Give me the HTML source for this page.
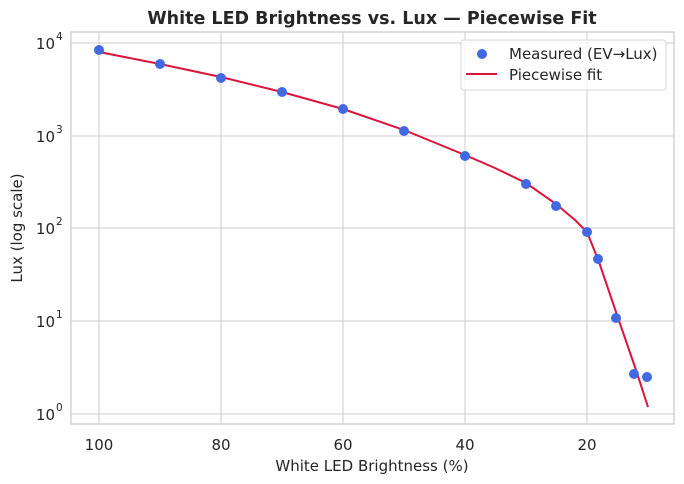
<!DOCTYPE html>
<html><head><style>body{margin:0;background:#fff}svg{display:block}</style></head><body>
<svg width="684" height="484" xmlns="http://www.w3.org/2000/svg" font-family="DejaVu Sans, Liberation Sans, sans-serif">
<rect width="684" height="484" fill="#fff"/>
<g stroke="#cccccc" stroke-width="1">
<line x1="99" y1="32" x2="99" y2="424"/><line x1="221" y1="32" x2="221" y2="424"/><line x1="343" y1="32" x2="343" y2="424"/><line x1="465" y1="32" x2="465" y2="424"/><line x1="587" y1="32" x2="587" y2="424"/>
<line x1="71" y1="43" x2="674" y2="43"/><line x1="71" y1="136" x2="674" y2="136"/><line x1="71" y1="228" x2="674" y2="228"/><line x1="71" y1="321" x2="674" y2="321"/><line x1="71" y1="414" x2="674" y2="414"/>
</g>
<rect x="71" y="32" width="603" height="392" fill="none" stroke="#cccccc" stroke-width="1.3"/>
<polyline fill="none" stroke="#dc143c" stroke-width="2" points="99,52 160,64 221,77 282,92 343,109 404,130 465,155 495,168 526,183 556,204 575,220 587,232 599,262 617,315 636,370 648,407"/>
<g fill="#4169e1">
<circle cx="99" cy="50" r="5"/><circle cx="160" cy="64" r="5"/><circle cx="221" cy="78" r="5"/><circle cx="282" cy="92" r="5"/><circle cx="343" cy="109" r="5"/><circle cx="404" cy="131" r="5"/><circle cx="465" cy="156" r="5"/><circle cx="526" cy="184" r="5"/><circle cx="556" cy="206" r="5"/><circle cx="587" cy="232" r="5"/><circle cx="598" cy="259" r="5"/><circle cx="616" cy="318" r="5"/><circle cx="634" cy="374" r="5"/><circle cx="647" cy="377" r="5"/>
</g>
<g font-size="15" fill="#262626" text-anchor="middle">
<text x="99" y="450">100</text><text x="221" y="450">80</text><text x="343" y="450">60</text><text x="465" y="450">40</text><text x="587" y="450">20</text>
</g>
<g font-size="15" fill="#262626" text-anchor="end">
<text x="55" y="49">10</text><text x="55" y="142">10</text><text x="55" y="234">10</text><text x="55" y="327">10</text><text x="55" y="420">10</text>
</g>
<g font-size="10.5" fill="#262626">
<text x="56" y="40">4</text><text x="56" y="133">3</text><text x="56" y="225">2</text><text x="56" y="318">1</text><text x="56" y="411">0</text>
</g>
<text x="372" y="471" font-size="15" fill="#262626" text-anchor="middle">White LED Brightness (%)</text>
<text transform="translate(22,228) rotate(-90)" font-size="15" fill="#262626" text-anchor="middle">Lux (log scale)</text>
<text x="372" y="24" font-size="17.5" font-weight="bold" fill="#262626" text-anchor="middle">White LED Brightness vs. Lux — Piecewise Fit</text>
<rect x="461" y="40" width="205" height="50" rx="3" fill="#fff" fill-opacity="0.8" stroke="#d6d6d6"/>
<circle cx="482" cy="54" r="5" fill="#4169e1"/>
<line x1="466" y1="74" x2="497" y2="74" stroke="#dc143c" stroke-width="2"/>
<text x="509" y="59" font-size="15" fill="#262626">Measured (EV→Lux)</text>
<text x="509" y="80" font-size="15" fill="#262626">Piecewise fit</text>
</svg>
</body></html>
